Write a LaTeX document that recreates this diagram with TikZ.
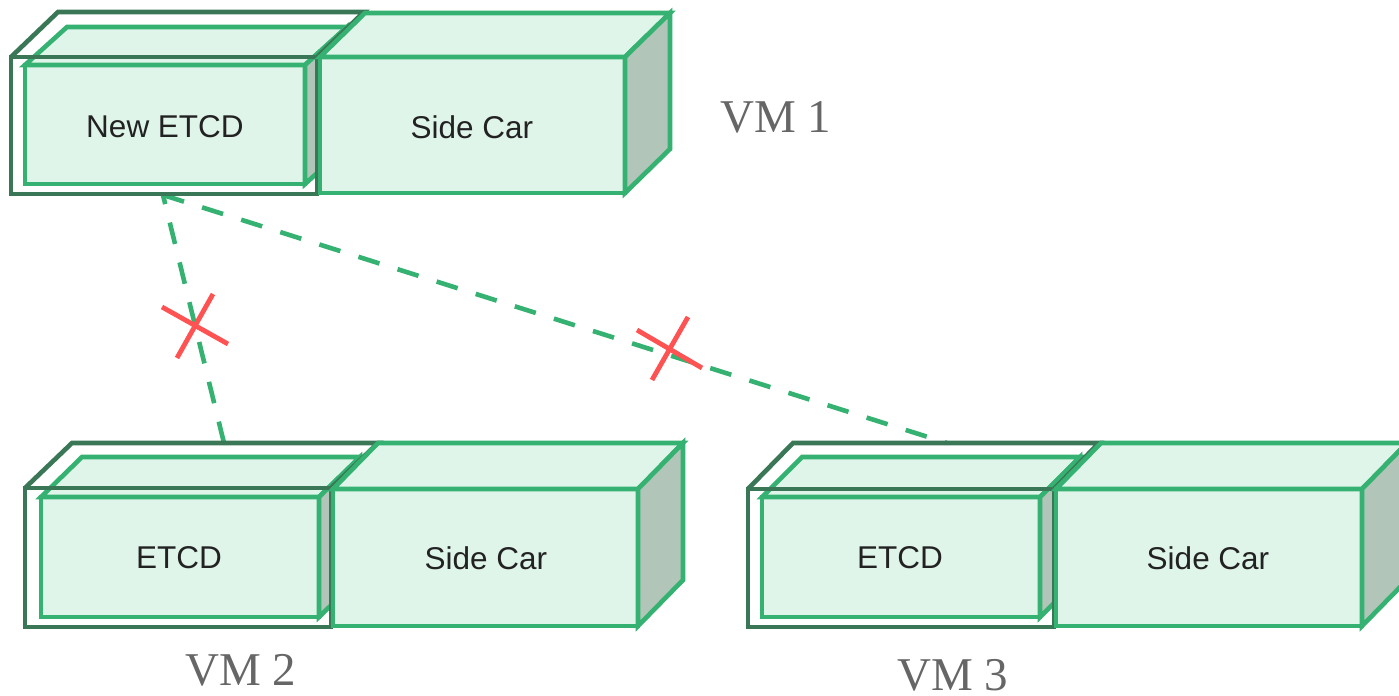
\documentclass[tikz,border=0pt]{standalone}
\usepackage{fontspec}
\setmainfont{Liberation Serif}
\newfontfamily\boxfont{Liberation Sans}
\definecolor{cgreen}{HTML}{35B271}
\definecolor{cdark}{HTML}{3A7756}
\definecolor{cfront}{HTML}{E0F5EA}
\definecolor{cside}{HTML}{B1C5B9}
\definecolor{cred}{HTML}{FF5252}
\definecolor{ctext}{HTML}{222222}
\definecolor{cvm}{HTML}{666666}
\tikzset{
  gstroke/.style={draw=cgreen, line width=2.3pt, line join=miter},
  dstroke/.style={draw=cdark, line width=2.3pt, line join=miter},
  boxlabel/.style={font=\boxfont\fontsize{15.75}{18}\selectfont, text=ctext, inner sep=0pt},
  vmlabel/.style={font=\fontsize{23.5}{28}\selectfont, text=cvm, inner sep=0pt},
  link/.style={draw=cgreen, line width=2.3pt, dash pattern=on 11pt off 9.5pt},
  cross/.style={draw=cred, line width=2.4pt},
}
% x1 y1 x2 y2 dx dy : filled cube
\newcommand\fillcube[6]{%
  \filldraw[gstroke, fill=cfront] (#1,#2) rectangle (#3,#4);
  \filldraw[gstroke, fill=cfront] (#1,#2) -- ++(#5,#6) -- ++({#3-#1},0) -- (#3,#2) -- cycle;
  \filldraw[gstroke, fill=cside] (#3,#2) -- ++(#5,#6) -- ++(0,{#4-#2}) -- (#3,#4) -- cycle;
}
% x1 y1 x2 y2 dx dy : outline cube
\newcommand\outlinecube[6]{%
  \draw[dstroke] (#1,#2) rectangle (#3,#4);
  \draw[dstroke] (#1,#2) -- ++(#5,#6) -- ++({#3-#1},0) -- (#3,#2);
}
\begin{document}
\begin{tikzpicture}[x=0.5pt,y=-0.5pt]
\useasboundingbox (0,0) rectangle (1399,696);
\clip (0,0) rectangle (1399,696);
\fill[white] (0,0) rectangle (1399,696);

% connectors
\coordinate (src1) at (163,195);
\coordinate (dst2) at (224,443);
\coordinate (dst3) at (947,443);
\draw[link] (dst2) -- (src1);
\draw[link] (src1) -- (dst3);

% crosses
\coordinate (xa1) at (162,307); \coordinate (xa2) at (228,344);
\coordinate (xb1) at (213,294); \coordinate (xb2) at (177,358);
\draw[cross] (xa1) -- (xa2);
\draw[cross] (xb1) -- (xb2);
\coordinate (ya1) at (637,330); \coordinate (ya2) at (702,368);
\coordinate (yb1) at (688,317); \coordinate (yb2) at (652,380);
\draw[cross] (ya1) -- (ya2);
\draw[cross] (yb1) -- (yb2);

% VM 1
\fillcube{25}{65}{305}{184}{42}{-38}
\outlinecube{11}{57}{317}{194}{47}{-45}
\fillcube{320}{57}{625}{193}{45}{-44}
\node[boxlabel] (etcd1) at (165,127) {New ETCD};
\node[boxlabel] (side1) at (472,127) {Side Car};
\node[vmlabel] (vm1) at (776,117) {VM 1};

% VM 2
\fillcube{41}{497}{319}{617}{41}{-40}
\outlinecube{25}{488}{331}{627}{47}{-45}
\fillcube{333}{489}{638}{626}{45}{-46}
\node[boxlabel] (etcd2) at (179,558) {ETCD};
\node[boxlabel] (side2) at (486,558) {Side Car};
\node[vmlabel] (vm2) at (241,670) {VM 2};

% VM 3
\fillcube{762}{497}{1040}{617}{40}{-40}
\outlinecube{748}{489}{1054}{627}{45}{-46}
\fillcube{1056}{489}{1362}{626}{45}{-46}
\node[boxlabel] (etcd3) at (900,558) {ETCD};
\node[boxlabel] (side3) at (1208,558) {Side Car};
\node[vmlabel] (vm3) at (953,675) {VM 3};
\end{tikzpicture}
\end{document}
